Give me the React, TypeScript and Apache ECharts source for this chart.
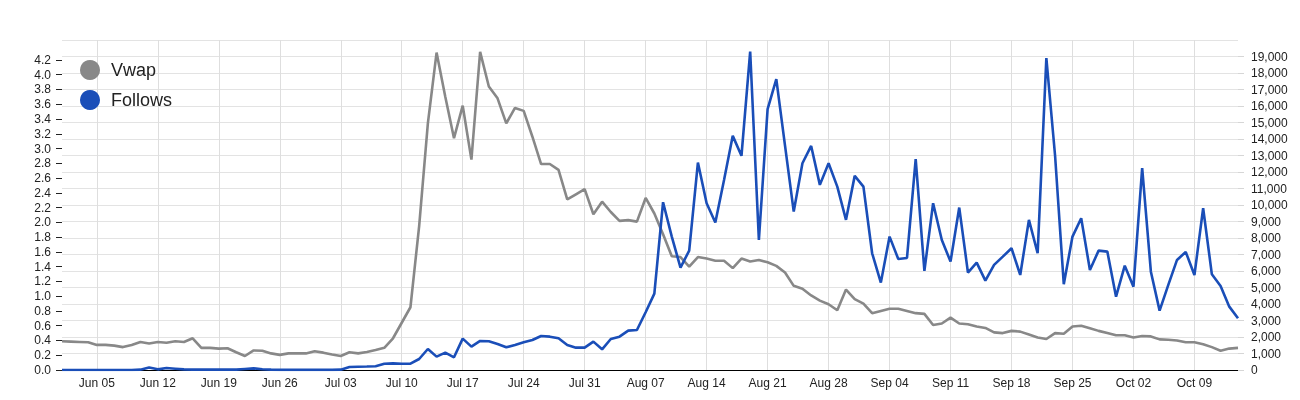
import React, { useEffect, useRef } from "react";
import * as echarts from "echarts";

const START_DATE = "2023-06-01";
const DAY_COUNT = 136;
const MONTHS = ["Jan", "Feb", "Mar", "Apr", "May", "Jun", "Jul", "Aug", "Sep", "Oct", "Nov", "Dec"];

const vwap = [
  0.39, 0.385, 0.38, 0.375, 0.34, 0.34, 0.33, 0.31, 0.34, 0.38,
  0.36, 0.38, 0.37, 0.39, 0.38, 0.43, 0.30, 0.30, 0.29, 0.295,
  0.24, 0.19, 0.265, 0.26, 0.225, 0.205, 0.225, 0.225, 0.225, 0.255,
  0.235, 0.21, 0.19, 0.24, 0.225, 0.245, 0.27, 0.30, 0.43, 0.64,
  0.85, 1.95, 3.34, 4.30, 3.70, 3.14, 3.58, 2.85, 4.31, 3.84,
  3.68, 3.34, 3.55, 3.51, 3.16, 2.79, 2.79, 2.71, 2.31, 2.38,
  2.45, 2.11, 2.28, 2.14, 2.02, 2.03, 2.01, 2.33, 2.12, 1.84,
  1.54, 1.53, 1.40, 1.53, 1.51, 1.48, 1.48, 1.38, 1.51, 1.47,
  1.49, 1.46, 1.41, 1.32, 1.14, 1.10, 1.01, 0.94, 0.89, 0.81,
  1.09, 0.96, 0.90, 0.77, 0.80, 0.83, 0.83, 0.80, 0.77, 0.76,
  0.61, 0.63, 0.71, 0.63, 0.62, 0.59, 0.57, 0.51, 0.50, 0.53,
  0.52, 0.48, 0.44, 0.42, 0.50, 0.49, 0.59, 0.60, 0.565, 0.53,
  0.50, 0.47, 0.47, 0.44, 0.46, 0.455, 0.415, 0.41, 0.40, 0.375,
  0.375, 0.35, 0.31, 0.26, 0.29, 0.30,
];

const follows = [
  0, 0, 0, 0, 0, 0, 0, 0, 0, 20,
  150, 40, 120, 80, 40, 20, 20, 20, 20, 20,
  20, 60, 100, 50, 20, 10, 10, 10, 10, 10,
  10, 10, 20, 180, 200, 210, 230, 380, 400, 380,
  380, 667, 1273, 810, 1050, 770, 1900, 1415, 1760, 1740,
  1577, 1375, 1516, 1677, 1820, 2060, 2020, 1920, 1516, 1355,
  1355, 1720, 1253, 1880, 2020, 2385, 2425, 3500, 4630, 10170,
  8085, 6205, 7235, 12570, 10110, 8935, 11520, 14190, 12980, 19300,
  7880, 15810, 17630, 13600, 9600, 12530, 13580, 11220, 12530, 11115,
  9100, 11765, 11115, 7075, 5295, 8085, 6730, 6790, 12775, 6005,
  10110, 7880, 6570, 9845, 5905, 6510, 5420, 6370, 6870, 7380,
  5760, 9100, 7075, 18900, 13000, 5195, 8085, 9200, 6065, 7235,
  7175, 4445, 6325, 5050, 12230, 5960, 3600, 5155, 6670, 7155,
  5760, 9805, 5800, 5095, 3840, 3135,
];

const leftTicks = [0, 0.2, 0.4, 0.6, 0.8, 1.0, 1.2, 1.4, 1.6, 1.8, 2.0, 2.2, 2.4, 2.6, 2.8, 3.0, 3.2, 3.4, 3.6, 3.8, 4.0, 4.2];

function buildDates(): string[] {
  const out: string[] = [];
  const base = new Date(START_DATE + "T00:00:00Z");
  for (let i = 0; i < DAY_COUNT; i++) {
    const d = new Date(base.getTime() + i * 86400000);
    const day = String(d.getUTCDate()).padStart(2, "0");
    out.push(MONTHS[d.getUTCMonth()] + " " + day);
  }
  return out;
}

const FONT = "'Liberation Sans', Arial, Helvetica, sans-serif";

export default function App() {
  const ref = useRef<HTMLDivElement>(null);
  useEffect(() => {
    if (!ref.current) return;
    const chart = echarts.init(ref.current, undefined, { renderer: "svg" });
    const dates = buildDates();
    const weekly = (idx: number) => idx >= 4 && (idx - 4) % 7 === 0;
    chart.setOption({
      animation: false,
      textStyle: { fontFamily: FONT },
      grid: { left: 62, right: 62, top: 40, bottom: 30, containLabel: false },
      legend: {
        orient: "vertical",
        left: 75,
        top: 55,
        icon: "circle",
        itemWidth: 20,
        itemHeight: 20,
        itemGap: 10,
        textStyle: { fontSize: 18, color: "#222", fontFamily: FONT, padding: [0, 0, 0, 6] },
        data: ["Vwap", "Follows"],
      },
      xAxis: {
        type: "category",
        data: dates,
        boundaryGap: false,
        axisLine: { show: true, lineStyle: { color: "#000", width: 1 } },
        axisTick: { show: false },
        axisLabel: {
          interval: (idx: number) => weekly(idx),
          color: "#222",
          fontSize: 12,
          fontFamily: FONT,
          margin: 7,
        },
        splitLine: {
          show: true,
          interval: (idx: number) => weekly(idx),
          lineStyle: { color: "#dedede", width: 1 },
        },
      },
      yAxis: [
        {
          type: "value",
          position: "left",
          min: 0,
          max: 4.47,
          axisLine: { show: false },
          axisTick: {
            show: true,
            length: 6,
            customValues: leftTicks,
            lineStyle: { color: "#222" },
          },
          axisLabel: {
            customValues: leftTicks,
            formatter: (v: number) => v.toFixed(1),
            color: "#222",
            fontSize: 12,
            fontFamily: FONT,
            margin: 11,
          },
          splitLine: { show: false },
        },
        {
          type: "value",
          position: "right",
          min: 0,
          max: 20000,
          interval: 1000,
          axisLine: { show: false },
          axisTick: { show: true, length: 6, lineStyle: { color: "#d6d6d6" } },
          axisLabel: {
            showMaxLabel: false,
            formatter: (v: number) => (v >= 20000 ? "" : v.toLocaleString("en-US")),
            color: "#222",
            fontSize: 12,
            fontFamily: FONT,
            margin: 13,
          },
          splitLine: { show: true, lineStyle: { color: "#e3e3e3", width: 1 } },
        },
      ],
      series: [
        {
          name: "Vwap",
          type: "line",
          yAxisIndex: 0,
          data: vwap,
          symbol: "none",
          showSymbol: false,
          lineStyle: { color: "#888888", width: 2.6 },
          itemStyle: { color: "#888888" },
        },
        {
          name: "Follows",
          type: "line",
          yAxisIndex: 1,
          data: follows,
          symbol: "none",
          showSymbol: false,
          lineStyle: { color: "#1a4eb8", width: 2.6 },
          itemStyle: { color: "#1a4eb8" },
        },
      ],
    });
    return () => chart.dispose();
  }, []);
  return (
    <div
      ref={ref}
      style={{ position: "fixed", left: 0, top: 0, width: 1300, height: 400 }}
    />
  );
}
